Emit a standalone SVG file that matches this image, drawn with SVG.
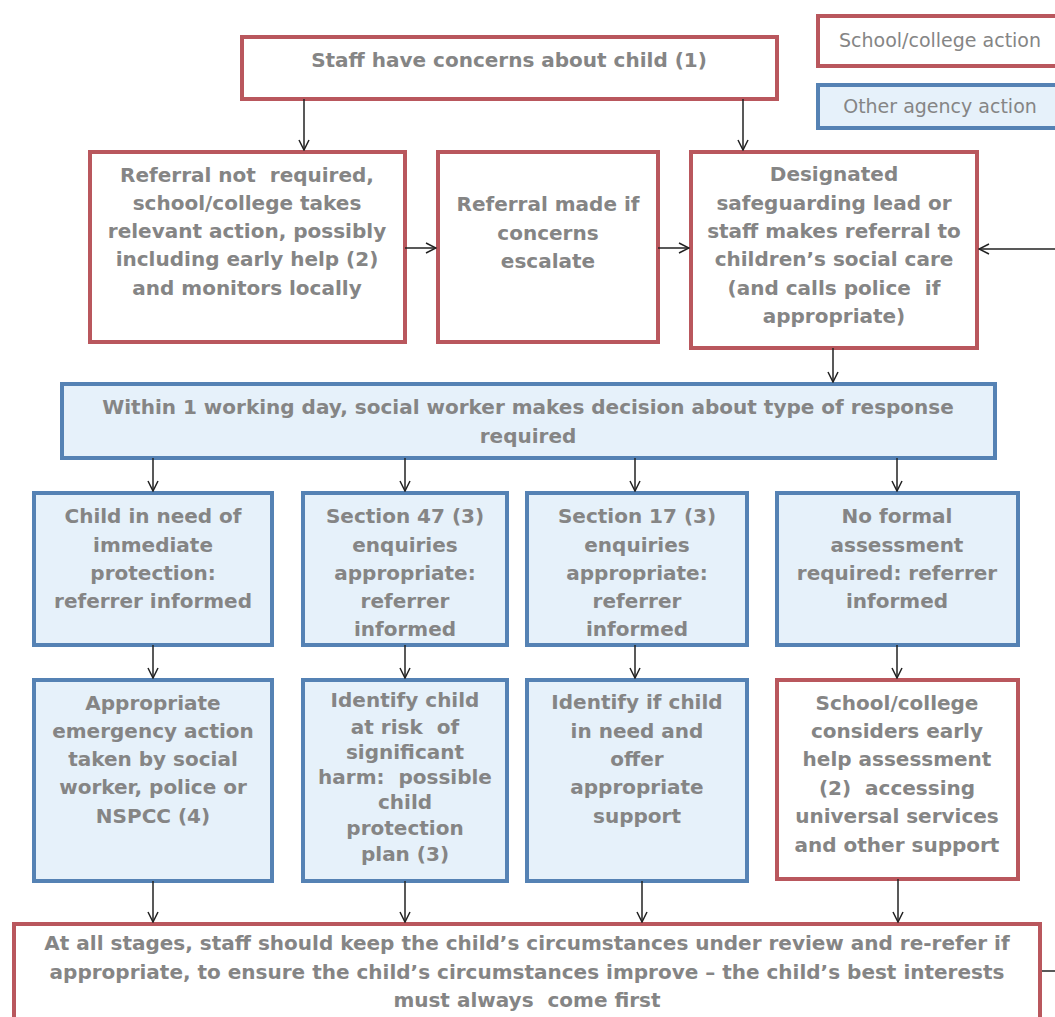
<svg xmlns="http://www.w3.org/2000/svg" width="1055" height="1017" viewBox="0 0 1055 1017">
<style>
.r{fill:#ffffff;stroke:#b9575d;stroke-width:4}
.b{fill:#e6f1fa;stroke:#5582b4;stroke-width:4}
.t{font-family:"DejaVu Sans",Verdana,sans-serif;font-weight:bold;font-size:20px;fill:#858585;text-anchor:middle;white-space:pre}
.l{font-family:"DejaVu Sans",Verdana,sans-serif;font-size:19px;fill:#858585;text-anchor:middle}
.c{stroke:#222;stroke-width:1.5;fill:none}
</style>
<defs>
<marker id="a" viewBox="0 0 12 12" refX="11" refY="6" markerWidth="12" markerHeight="12" markerUnits="userSpaceOnUse" orient="auto">
<path d="M1,1 L11,6 L1,11" fill="none" stroke="#222" stroke-width="1.5"/>
</marker>
</defs>
<rect width="1055" height="1017" fill="#ffffff"/>

<g id="legend-school">
<rect class="r" x="818" y="16" width="250" height="50"/>
<text class="l" x="940" y="47">School/college action</text>
</g>
<g id="legend-agency">
<rect class="b" x="818" y="85" width="250" height="43"/>
<text class="l" x="940" y="113">Other agency action</text>
</g>

<g id="n-concerns">
<rect class="r" x="242" y="37" width="535" height="62"/>
<text class="t" x="509" y="67">Staff have concerns about child (1)</text>
</g>

<g id="n-notrequired">
<rect class="r" x="90" y="152" width="315" height="190"/>
<text class="t" x="247" y="182">Referral not  required,</text>
<text class="t" x="247" y="210">school/college takes</text>
<text class="t" x="247" y="238">relevant action, possibly</text>
<text class="t" x="247" y="266">including early help (2)</text>
<text class="t" x="247" y="295">and monitors locally</text>
</g>

<g id="n-escalate">
<rect class="r" x="438" y="152" width="220" height="190"/>
<text class="t" x="548" y="211">Referral made if</text>
<text class="t" x="548" y="240">concerns</text>
<text class="t" x="548" y="268">escalate</text>
</g>

<g id="n-dsl">
<rect class="r" x="691" y="152" width="286" height="196"/>
<text class="t" x="834" y="181">Designated</text>
<text class="t" x="834" y="210">safeguarding lead or</text>
<text class="t" x="834" y="238">staff makes referral to</text>
<text class="t" x="834" y="266">children’s social care</text>
<text class="t" x="834" y="295">(and calls police  if</text>
<text class="t" x="834" y="323">appropriate)</text>
</g>

<g id="n-decision">
<rect class="b" x="62" y="384" width="933" height="74"/>
<text class="t" x="528" y="414">Within 1 working day, social worker makes decision about type of response</text>
<text class="t" x="528" y="443">required</text>
</g>

<g id="n-immediate">
<rect class="b" x="34" y="493" width="238" height="152"/>
<text class="t" x="153" y="523">Child in need of</text>
<text class="t" x="153" y="552">immediate</text>
<text class="t" x="153" y="580">protection:</text>
<text class="t" x="153" y="608">referrer informed</text>
</g>

<g id="n-s47">
<rect class="b" x="303" y="493" width="204" height="152"/>
<text class="t" x="405" y="523">Section 47 (3)</text>
<text class="t" x="405" y="552">enquiries</text>
<text class="t" x="405" y="580">appropriate:</text>
<text class="t" x="405" y="608">referrer</text>
<text class="t" x="405" y="636">informed</text>
</g>

<g id="n-s17">
<rect class="b" x="527" y="493" width="220" height="152"/>
<text class="t" x="637" y="523">Section 17 (3)</text>
<text class="t" x="637" y="552">enquiries</text>
<text class="t" x="637" y="580">appropriate:</text>
<text class="t" x="637" y="608">referrer</text>
<text class="t" x="637" y="636">informed</text>
</g>

<g id="n-noformal">
<rect class="b" x="777" y="493" width="241" height="152"/>
<text class="t" x="897" y="523">No formal</text>
<text class="t" x="897" y="552">assessment</text>
<text class="t" x="897" y="580">required: referrer</text>
<text class="t" x="897" y="608">informed</text>
</g>

<g id="n-emergency">
<rect class="b" x="34" y="680" width="238" height="201"/>
<text class="t" x="153" y="710">Appropriate</text>
<text class="t" x="153" y="738">emergency action</text>
<text class="t" x="153" y="766">taken by social</text>
<text class="t" x="153" y="794">worker, police or</text>
<text class="t" x="153" y="823">NSPCC (4)</text>
</g>

<g id="n-harm">
<rect class="b" x="303" y="680" width="204" height="201"/>
<text class="t" x="405" y="707">Identify child</text>
<text class="t" x="405" y="734">at risk  of</text>
<text class="t" x="405" y="759">significant</text>
<text class="t" x="405" y="784">harm:  possible</text>
<text class="t" x="405" y="809">child</text>
<text class="t" x="405" y="835">protection</text>
<text class="t" x="405" y="861">plan (3)</text>
</g>

<g id="n-inneed">
<rect class="b" x="527" y="680" width="220" height="201"/>
<text class="t" x="637" y="709">Identify if child</text>
<text class="t" x="637" y="738">in need and</text>
<text class="t" x="637" y="766">offer</text>
<text class="t" x="637" y="794">appropriate</text>
<text class="t" x="637" y="823">support</text>
</g>

<g id="n-earlyhelp">
<rect class="r" x="777" y="680" width="241" height="199"/>
<text class="t" x="897" y="710">School/college</text>
<text class="t" x="897" y="738">considers early</text>
<text class="t" x="897" y="766">help assessment</text>
<text class="t" x="897" y="795">(2)  accessing</text>
<text class="t" x="897" y="823">universal services</text>
<text class="t" x="897" y="852">and other support</text>
</g>

<g id="n-review">
<rect class="r" x="14" y="924" width="1026" height="110"/>
<text class="t" x="527" y="950">At all stages, staff should keep the child’s circumstances under review and re-refer if</text>
<text class="t" x="527" y="979">appropriate, to ensure the child’s circumstances improve – the child’s best interests</text>
<text class="t" x="527" y="1007">must always  come first</text>
</g>

<g id="connectors">
<path class="c" d="M304,99 V150" marker-end="url(#a)"/>
<path class="c" d="M743,99 V150" marker-end="url(#a)"/>
<path class="c" d="M405,248 H436" marker-end="url(#a)"/>
<path class="c" d="M658,248 H689" marker-end="url(#a)"/>
<path class="c" d="M1055,249 H979" marker-end="url(#a)"/>
<path class="c" d="M833,348 V382" marker-end="url(#a)"/>
<path class="c" d="M153,458 V491" marker-end="url(#a)"/>
<path class="c" d="M405,458 V491" marker-end="url(#a)"/>
<path class="c" d="M635,458 V491" marker-end="url(#a)"/>
<path class="c" d="M897,458 V491" marker-end="url(#a)"/>
<path class="c" d="M153,645 V678" marker-end="url(#a)"/>
<path class="c" d="M405,645 V678" marker-end="url(#a)"/>
<path class="c" d="M635,645 V678" marker-end="url(#a)"/>
<path class="c" d="M897,645 V678" marker-end="url(#a)"/>
<path class="c" d="M153,881 V922" marker-end="url(#a)"/>
<path class="c" d="M405,881 V922" marker-end="url(#a)"/>
<path class="c" d="M642,881 V922" marker-end="url(#a)"/>
<path class="c" d="M898,879 V922" marker-end="url(#a)"/>
<path class="c" d="M1042,971 H1055"/>
</g>
</svg>
